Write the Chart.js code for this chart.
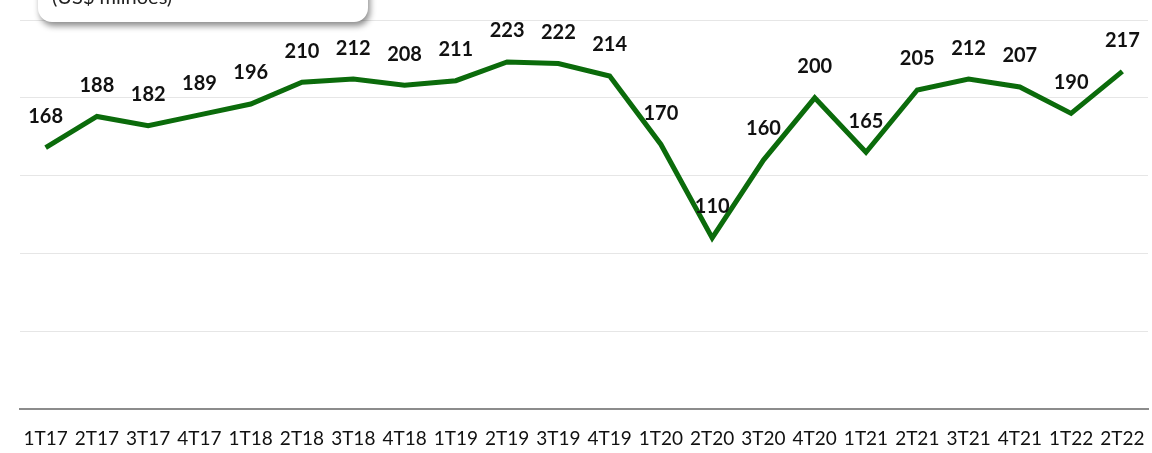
<!DOCTYPE html>
<html>
<head>
<meta charset="utf-8">
<script src="https://cdn.jsdelivr.net/npm/chart.js@4/dist/chart.umd.min.js"></script>
<style>
  html, body { margin: 0; padding: 0; background: #fff; }
  #wrap { position: relative; width: 1152px; height: 453px; overflow: hidden; }
  #unidade {
    position: absolute; left: 38px; top: -30px; width: 330px; height: 52px;
    background: #fff; border-radius: 14px;
    box-shadow: 2px 4px 6px rgba(0,0,0,0.45);
    font-family: Lato, "Open Sans", sans-serif; font-size: 20px; color: #222;
    z-index: 2;
  }
  #unidade span { position: absolute; left: 14px; top: 14px; }
</style>
</head>
<body>
<div id="wrap">
  <div id="unidade"><span>(US$ milhões)</span></div>
  <canvas id="lineChart" width="1152" height="453"></canvas>
</div>
<script>
const trimestres = ['1T17', '2T17', '3T17', '4T17', '1T18', '2T18', '3T18', '4T18', '1T19', '2T19', '3T19',
    '4T19', '1T20', '2T20', '3T20', '4T20', '1T21', '2T21', '3T21', '4T21', '1T22', '2T22'];
const valores = [168, 188, 182, 189, 196, 210, 212, 208, 211, 223, 222,
    214, 170, 110, 160, 200, 165, 205, 212, 207, 190, 217];

// rótulos em cima de cada ponto
const rotulos = {
    id: 'rotulos',
    afterDatasetsDraw(chart) {
        const c = chart.ctx;
        const meta = chart.getDatasetMeta(0);
        c.save();
        c.font = 'bold 20px Lato, "Open Sans", sans-serif';
        c.fillStyle = '#111';
        c.textAlign = 'center';
        c.textBaseline = 'middle';
        meta.data.forEach((p, i) => {
            c.fillText(valores[i], p.x, p.y - 31);
        });
        c.restore();
    }
};

const ctx = document.getElementById('lineChart').getContext('2d');
const lineChart = new Chart(ctx, {
    type: 'line',
    data: {
        labels: trimestres,
        datasets: [{
            data: valores,
            borderColor: '#0b6b0b',
            borderWidth: 5,
            pointRadius: 0,
            tension: 0,
            fill: false
        }]
    },
    options: {
        responsive: false,
        animation: false,
        layout: {
            padding: { left: 20, right: 4, top: 20, bottom: 0 }
        },
        plugins: {
            legend: { display: false },
            tooltip: { enabled: false }
        },
        scales: {
            x: {
                offset: true,
                grid: { display: false, drawTicks: false },
                border: { display: true, color: '#8c8c8c', width: 2 },
                ticks: {
                    color: '#111',
                    font: { size: 19, family: 'Lato, "Open Sans", sans-serif' },
                    maxRotation: 0,
                    autoSkip: false,
                    padding: 18
                },
                afterFit(scale) {
                    scale.height = 44;
                    scale.paddingLeft = 0;
                    scale.paddingRight = 0;
                }
            },
            y: {
                min: 0,
                max: 250,
                ticks: { display: false, stepSize: 50 },
                border: { display: false },
                grid: { color: '#e6e6e6', drawTicks: false }
            }
        }
    },
    plugins: [rotulos]
});
</script>
</body>
</html>
